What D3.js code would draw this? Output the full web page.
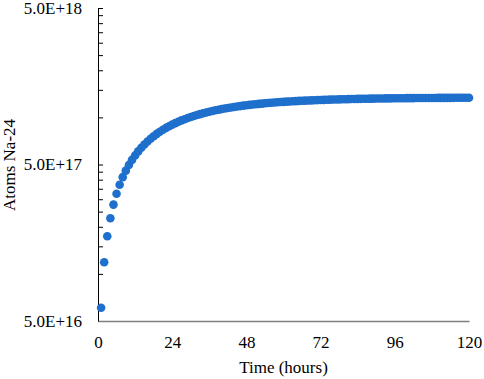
<!DOCTYPE html>
<html>
<head>
<meta charset="utf-8">
<script src="https://cdn.jsdelivr.net/npm/d3@7"></script>
<style>
  body { margin: 0; background: #fff; }
  svg text { font-family: "Liberation Serif", "DejaVu Serif", serif; }
</style>
</head>
<body>
<div id="chart"></div>
<script>
const margin = { top: 8, right: 15, bottom: 58, left: 98 };
const W = 484, H = 379;
const font = "'Liberation Serif', 'DejaVu Serif', serif";

// irradiation time (hours)
const hours = [
  1, 2, 3, 4, 5, 6, 7, 8, 9, 10, 11, 12, 13, 14, 15, 16, 17, 18, 19, 20,
  21, 22, 23, 24, 25, 26, 27, 28, 29, 30, 31, 32, 33, 34, 35, 36, 37, 38, 39, 40,
  41, 42, 43, 44, 45, 46, 47, 48, 49, 50, 51, 52, 53, 54, 55, 56, 57, 58, 59, 60,
  61, 62, 63, 64, 65, 66, 67, 68, 69, 70, 71, 72, 73, 74, 75, 76, 77, 78, 79, 80,
  81, 82, 83, 84, 85, 86, 87, 88, 89, 90, 91, 92, 93, 94, 95, 96, 97, 98, 99, 100,
  101, 102, 103, 104, 105, 106, 107, 108, 109, 110, 111, 112, 113, 114, 115, 116, 117, 118, 119, 120
];

// atoms of Na-24, in units of 1E18
const atoms = [
  0.0607, 0.1186, 0.1739, 0.2267, 0.2771, 0.3252, 0.3712, 0.4150, 0.4569, 0.4969,
  0.5351, 0.5715, 0.6063, 0.6395, 0.6712, 0.7015, 0.7304, 0.7580, 0.7844, 0.8095,
  0.8335, 0.8565, 0.8784, 0.8993, 0.9192, 0.9383, 0.9565, 0.9738, 0.9904, 1.0062,
  1.0213, 1.0358, 1.0495, 1.0627, 1.0753, 1.0872, 1.0987, 1.1096, 1.1200, 1.1300,
  1.1395, 1.1486, 1.1573, 1.1655, 1.1734, 1.1810, 1.1882, 1.1950, 1.2016, 1.2079,
  1.2139, 1.2196, 1.2250, 1.2302, 1.2352, 1.2399, 1.2445, 1.2488, 1.2529, 1.2569,
  1.2606, 1.2642, 1.2677, 1.2709, 1.2741, 1.2770, 1.2799, 1.2826, 1.2852, 1.2877,
  1.2901, 1.2923, 1.2945, 1.2965, 1.2985, 1.3004, 1.3022, 1.3039, 1.3055, 1.3071,
  1.3086, 1.3100, 1.3114, 1.3127, 1.3139, 1.3151, 1.3162, 1.3173, 1.3183, 1.3193,
  1.3202, 1.3211, 1.3220, 1.3228, 1.3236, 1.3243, 1.3250, 1.3257, 1.3264, 1.3270,
  1.3276, 1.3281, 1.3287, 1.3292, 1.3297, 1.3301, 1.3306, 1.3310, 1.3314, 1.3318,
  1.3322, 1.3325, 1.3329, 1.3332, 1.3335, 1.3338, 1.3341, 1.3343, 1.3346, 1.3348
];

const xTicks = [0, 24, 48, 72, 96, 120];
const yMajor = [5e16, 5e17, 5e18];
const yMajorLabels = ["5.0E+16", "5.0E+17", "5.0E+18"];
const yMinor = [
  1e17, 1.5e17, 2e17, 2.5e17, 3e17, 3.5e17, 4e17, 4.5e17,
  1e18, 1.5e18, 2e18, 2.5e18, 3e18, 3.5e18, 4e18, 4.5e18
];

const data = hours.map((h, i) => ({ t: h, n: atoms[i] * 1e18 }));

const width = W - margin.left - margin.right;
const height = H - margin.top - margin.bottom;

const svg = d3.select("#chart").append("svg")
    .attr("width", W)
    .attr("height", H);

const g = svg.append("g")
    .attr("transform", `translate(${margin.left},${margin.top})`);

const x = d3.scaleLinear().domain([0, 120]).range([0, width]);
const y = d3.scaleLog().domain([5e16, 5e18]).range([height, 0]);

//y axis: inward ticks, majors labelled separately
const yAxis = g.append("g")
    .call(d3.axisRight(y)
        .tickValues(yMajor.concat(yMinor))
        .tickSize(5)
        .tickSizeOuter(0)
        .tickFormat(""));
yAxis.select(".domain").attr("stroke", "#000").attr("stroke-width", 1);
yAxis.selectAll(".tick line").attr("stroke", "#000");

g.append("g")
    .selectAll("text")
    .data(yMajor)
    .join("text")
      .attr("x", -16)
      .attr("y", d => y(d))
      .attr("dy", "0.35em")
      .attr("text-anchor", "end")
      .attr("font-family", font)
      .attr("font-size", 17)
      .attr("fill", "#000")
      .text((d, i) => yMajorLabels[i]);

//x axis: no ticks, grey line
const xAxis = g.append("g")
    .attr("transform", `translate(0,${height})`)
    .attr("font-family", font)
    .call(d3.axisBottom(x)
        .tickValues(xTicks)
        .tickSize(0)
        .tickPadding(15)
        .tickFormat(d3.format("d")));
xAxis.select(".domain").attr("stroke", "#7f7f7f").attr("stroke-width", 1.5);
xAxis.selectAll("text")
    .attr("font-size", 17)
    .attr("font-family", font)
    .attr("fill", "#000");

//axis titles
svg.append("text")
    .attr("x", margin.left + x(60))
    .attr("y", 373)
    .attr("text-anchor", "middle")
    .attr("font-family", font)
    .attr("font-size", 17)
    .text("Time (hours)");

svg.append("text")
    .attr("transform", "translate(15,165) rotate(-90)")
    .attr("text-anchor", "middle")
    .attr("font-family", font)
    .attr("font-size", 17)
    .text("Atoms Na-24");

//points
g.append("g")
    .selectAll("circle")
    .data(data)
    .join("circle")
      .attr("cx", d => x(d.t))
      .attr("cy", d => y(d.n))
      .attr("r", 4.3)
      .attr("fill", "#1f6fcc");
</script>
</body>
</html>
